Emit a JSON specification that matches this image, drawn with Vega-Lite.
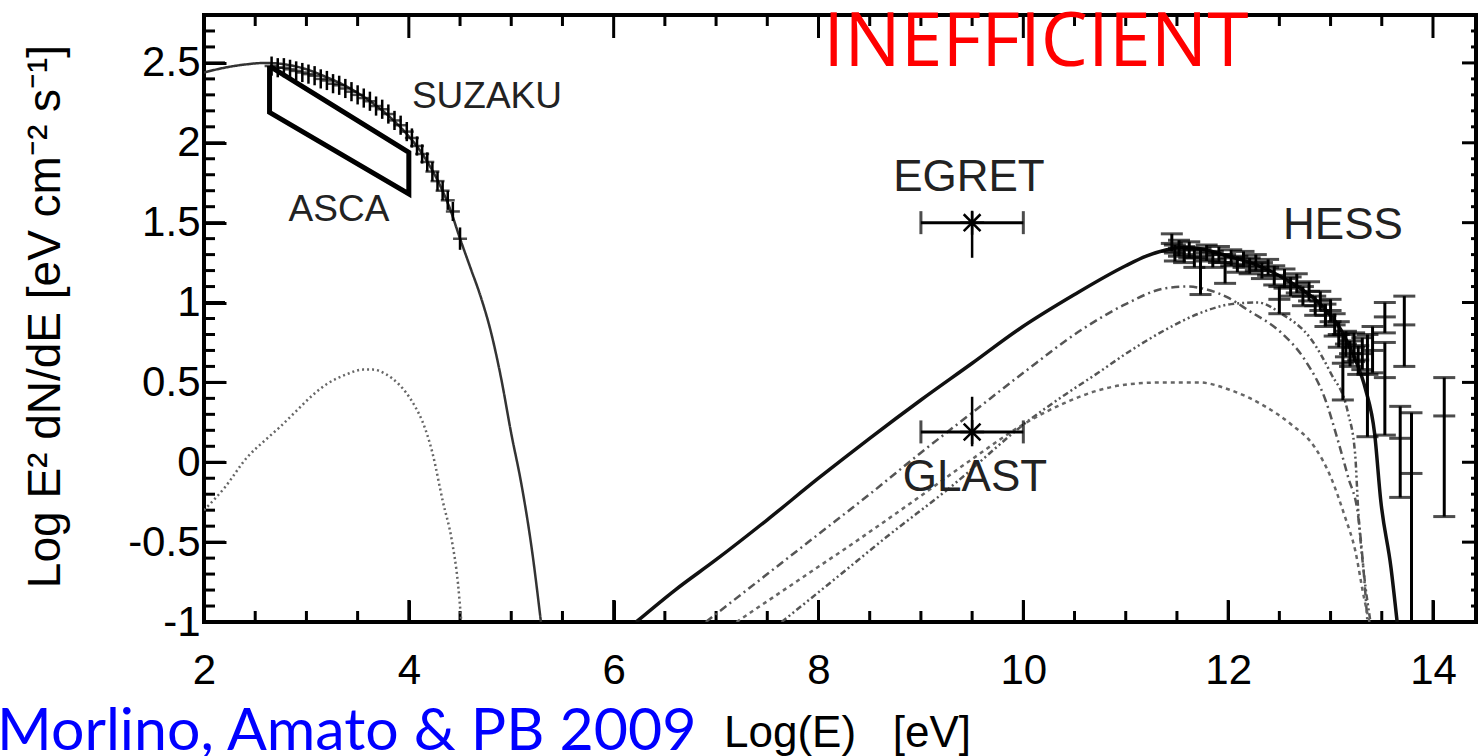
{
  "$schema": "https://vega.github.io/schema/vega-lite/v6.json",
  "width": 1272,
  "height": 607,
  "autosize": "none",
  "padding": {"left": 204, "top": 15, "right": 2, "bottom": 134},
  "background": "white",
  "config": {
    "view": {"stroke": "black", "strokeWidth": 4},
    "axis": {"grid": false, "domain": false, "ticks": true, "tickColor": "black", "tickWidth": 3, "tickOpacity": 1, "zindex": 1}
  },
  "datasets": {
    "xb_major": [{"v": 2, "at": -1}, {"v": 4, "at": -1}, {"v": 6, "at": -1}, {"v": 8, "at": -1}, {"v": 10, "at": -1}, {"v": 12, "at": -1}, {"v": 14, "at": -1}],
    "xb_minor": [{"v": 2.5, "at": -1}, {"v": 3, "at": -1}, {"v": 3.5, "at": -1}, {"v": 4.5, "at": -1}, {"v": 5, "at": -1}, {"v": 5.5, "at": -1},
      {"v": 6.5, "at": -1}, {"v": 7, "at": -1}, {"v": 7.5, "at": -1}, {"v": 8.5, "at": -1}, {"v": 9, "at": -1}, {"v": 9.5, "at": -1},
      {"v": 10.5, "at": -1}, {"v": 11, "at": -1}, {"v": 11.5, "at": -1}, {"v": 12.5, "at": -1}, {"v": 13, "at": -1}, {"v": 13.5, "at": -1}],
    "xt_major": [{"v": 2, "at": 2.8}, {"v": 4, "at": 2.8}, {"v": 6, "at": 2.8}, {"v": 8, "at": 2.8}, {"v": 10, "at": 2.8}, {"v": 12, "at": 2.8}, {"v": 14, "at": 2.8}],
    "xt_minor": [{"v": 2.5, "at": 2.8}, {"v": 3, "at": 2.8}, {"v": 3.5, "at": 2.8}, {"v": 4.5, "at": 2.8}, {"v": 5, "at": 2.8}, {"v": 5.5, "at": 2.8},
      {"v": 6.5, "at": 2.8}, {"v": 7, "at": 2.8}, {"v": 7.5, "at": 2.8}, {"v": 8.5, "at": 2.8}, {"v": 9, "at": 2.8}, {"v": 9.5, "at": 2.8},
      {"v": 10.5, "at": 2.8}, {"v": 11, "at": 2.8}, {"v": 11.5, "at": 2.8}, {"v": 12.5, "at": 2.8}, {"v": 13, "at": 2.8}, {"v": 13.5, "at": 2.8}],
    "yl_major": [{"v": -1, "at": 2}, {"v": -0.5, "at": 2}, {"v": 0, "at": 2}, {"v": 0.5, "at": 2}, {"v": 1, "at": 2}, {"v": 1.5, "at": 2}, {"v": 2, "at": 2}, {"v": 2.5, "at": 2}],
    "yl_minor": [{"v": -0.9, "at": 2}, {"v": -0.8, "at": 2}, {"v": -0.7, "at": 2}, {"v": -0.6, "at": 2}, {"v": -0.4, "at": 2}, {"v": -0.3, "at": 2},
      {"v": -0.2, "at": 2}, {"v": -0.1, "at": 2}, {"v": 0.1, "at": 2}, {"v": 0.2, "at": 2}, {"v": 0.3, "at": 2}, {"v": 0.4, "at": 2},
      {"v": 0.6, "at": 2}, {"v": 0.7, "at": 2}, {"v": 0.8, "at": 2}, {"v": 0.9, "at": 2}, {"v": 1.1, "at": 2}, {"v": 1.2, "at": 2},
      {"v": 1.3, "at": 2}, {"v": 1.4, "at": 2}, {"v": 1.6, "at": 2}, {"v": 1.7, "at": 2}, {"v": 1.8, "at": 2}, {"v": 1.9, "at": 2},
      {"v": 2.1, "at": 2}, {"v": 2.2, "at": 2}, {"v": 2.3, "at": 2}, {"v": 2.4, "at": 2}, {"v": 2.6, "at": 2}, {"v": 2.7, "at": 2}],
    "yr_major": [{"v": -1, "at": 14.42}, {"v": -0.5, "at": 14.42}, {"v": 0, "at": 14.42}, {"v": 0.5, "at": 14.42}, {"v": 1, "at": 14.42}, {"v": 1.5, "at": 14.42}, {"v": 2, "at": 14.42}, {"v": 2.5, "at": 14.42}],
    "yr_minor": [{"v": -0.9, "at": 14.42}, {"v": -0.8, "at": 14.42}, {"v": -0.7, "at": 14.42}, {"v": -0.6, "at": 14.42}, {"v": -0.4, "at": 14.42}, {"v": -0.3, "at": 14.42},
      {"v": -0.2, "at": 14.42}, {"v": -0.1, "at": 14.42}, {"v": 0.1, "at": 14.42}, {"v": 0.2, "at": 14.42}, {"v": 0.3, "at": 14.42}, {"v": 0.4, "at": 14.42},
      {"v": 0.6, "at": 14.42}, {"v": 0.7, "at": 14.42}, {"v": 0.8, "at": 14.42}, {"v": 0.9, "at": 14.42}, {"v": 1.1, "at": 14.42}, {"v": 1.2, "at": 14.42},
      {"v": 1.3, "at": 14.42}, {"v": 1.4, "at": 14.42}, {"v": 1.6, "at": 14.42}, {"v": 1.7, "at": 14.42}, {"v": 1.8, "at": 14.42}, {"v": 1.9, "at": 14.42},
      {"v": 2.1, "at": 14.42}, {"v": 2.2, "at": 14.42}, {"v": 2.3, "at": 14.42}, {"v": 2.4, "at": 14.42}, {"v": 2.6, "at": 14.42}, {"v": 2.7, "at": 14.42}],
    "total": [
      {"x": 6.22, "y": -1.0}, {"x": 6.6, "y": -0.8}, {"x": 7.0, "y": -0.61}, {"x": 7.5, "y": -0.36},
      {"x": 8.0, "y": -0.1}, {"x": 8.5, "y": 0.15}, {"x": 9.0, "y": 0.39}, {"x": 9.5, "y": 0.62},
      {"x": 9.95, "y": 0.83}, {"x": 10.5, "y": 1.05}, {"x": 11.0, "y": 1.23}, {"x": 11.2, "y": 1.29},
      {"x": 11.4, "y": 1.33}, {"x": 11.55, "y": 1.345}, {"x": 11.7, "y": 1.34}, {"x": 12.0, "y": 1.29},
      {"x": 12.3, "y": 1.23}, {"x": 12.6, "y": 1.13}, {"x": 12.9, "y": 0.99}, {"x": 13.1, "y": 0.83},
      {"x": 13.25, "y": 0.63}, {"x": 13.34, "y": 0.46}, {"x": 13.43, "y": 0.18}, {"x": 13.49, "y": -0.24},
      {"x": 13.59, "y": -0.66}, {"x": 13.65, "y": -1.0}
    ],
    "curves": [
      {"curve": "sync", "x": 2.0, "y": 2.44}, {"curve": "sync", "x": 2.2, "y": 2.47}, {"curve": "sync", "x": 2.4, "y": 2.49},
      {"curve": "sync", "x": 2.6, "y": 2.5}, {"curve": "sync", "x": 2.8, "y": 2.49}, {"curve": "sync", "x": 3.0, "y": 2.46},
      {"curve": "sync", "x": 3.2, "y": 2.41}, {"curve": "sync", "x": 3.4, "y": 2.35}, {"curve": "sync", "x": 3.6, "y": 2.27},
      {"curve": "sync", "x": 3.8, "y": 2.17}, {"curve": "sync", "x": 4.0, "y": 2.04}, {"curve": "sync", "x": 4.1, "y": 1.96},
      {"curve": "sync", "x": 4.2, "y": 1.86}, {"curve": "sync", "x": 4.3, "y": 1.74}, {"curve": "sync", "x": 4.4, "y": 1.59},
      {"curve": "sync", "x": 4.5, "y": 1.4}, {"curve": "sync", "x": 4.6, "y": 1.22}, {"curve": "sync", "x": 4.7, "y": 1.04},
      {"curve": "sync", "x": 4.8, "y": 0.82}, {"curve": "sync", "x": 4.9, "y": 0.53}, {"curve": "sync", "x": 5.0, "y": 0.18},
      {"curve": "sync", "x": 5.1, "y": -0.14}, {"curve": "sync", "x": 5.2, "y": -0.54}, {"curve": "sync", "x": 5.29, "y": -1.0},
      {"curve": "low", "x": 2.0, "y": -0.3}, {"curve": "low", "x": 2.2, "y": -0.16}, {"curve": "low", "x": 2.42, "y": 0.03},
      {"curve": "low", "x": 2.6, "y": 0.14}, {"curve": "low", "x": 2.74, "y": 0.22}, {"curve": "low", "x": 2.9, "y": 0.32},
      {"curve": "low", "x": 3.06, "y": 0.42}, {"curve": "low", "x": 3.2, "y": 0.49}, {"curve": "low", "x": 3.39, "y": 0.55},
      {"curve": "low", "x": 3.55, "y": 0.58}, {"curve": "low", "x": 3.65, "y": 0.58}, {"curve": "low", "x": 3.78, "y": 0.55},
      {"curve": "low", "x": 3.9, "y": 0.49}, {"curve": "low", "x": 3.98, "y": 0.43}, {"curve": "low", "x": 4.06, "y": 0.35},
      {"curve": "low", "x": 4.13, "y": 0.26}, {"curve": "low", "x": 4.23, "y": 0.06}, {"curve": "low", "x": 4.33, "y": -0.24},
      {"curve": "low", "x": 4.42, "y": -0.49}, {"curve": "low", "x": 4.48, "y": -0.76}, {"curve": "low", "x": 4.51, "y": -0.98},
      {"curve": "A", "x": 6.9, "y": -1.0}, {"curve": "A", "x": 7.5, "y": -0.7}, {"curve": "A", "x": 8.0, "y": -0.45},
      {"curve": "A", "x": 8.5, "y": -0.2}, {"curve": "A", "x": 9.0, "y": 0.06}, {"curve": "A", "x": 9.5, "y": 0.31},
      {"curve": "A", "x": 10.0, "y": 0.56}, {"curve": "A", "x": 10.57, "y": 0.83}, {"curve": "A", "x": 11.0, "y": 0.99},
      {"curve": "A", "x": 11.39, "y": 1.09}, {"curve": "A", "x": 11.6, "y": 1.1}, {"curve": "A", "x": 11.8, "y": 1.08},
      {"curve": "A", "x": 12.0, "y": 1.03}, {"curve": "A", "x": 12.2, "y": 0.95}, {"curve": "A", "x": 12.52, "y": 0.81},
      {"curve": "A", "x": 12.75, "y": 0.64}, {"curve": "A", "x": 12.95, "y": 0.39}, {"curve": "A", "x": 13.07, "y": 0.14},
      {"curve": "A", "x": 13.17, "y": -0.09}, {"curve": "A", "x": 13.27, "y": -0.34}, {"curve": "A", "x": 13.32, "y": -0.66},
      {"curve": "A", "x": 13.36, "y": -1.0},
      {"curve": "B", "x": 7.64, "y": -1.0}, {"curve": "B", "x": 8.2, "y": -0.71}, {"curve": "B", "x": 8.66, "y": -0.47},
      {"curve": "B", "x": 9.3, "y": -0.15}, {"curve": "B", "x": 10.05, "y": 0.26}, {"curve": "B", "x": 10.4, "y": 0.42},
      {"curve": "B", "x": 10.73, "y": 0.56}, {"curve": "B", "x": 11.05, "y": 0.7}, {"curve": "B", "x": 11.39, "y": 0.83},
      {"curve": "B", "x": 11.71, "y": 0.93}, {"curve": "B", "x": 12.03, "y": 0.99}, {"curve": "B", "x": 12.29, "y": 1.0},
      {"curve": "B", "x": 12.52, "y": 0.93}, {"curve": "B", "x": 12.81, "y": 0.77}, {"curve": "B", "x": 13.0, "y": 0.56},
      {"curve": "B", "x": 13.17, "y": 0.31}, {"curve": "B", "x": 13.24, "y": 0.05}, {"curve": "B", "x": 13.27, "y": -0.3},
      {"curve": "B", "x": 13.33, "y": -0.72}, {"curve": "B", "x": 13.39, "y": -1.0},
      {"curve": "C", "x": 7.2, "y": -1.0}, {"curve": "C", "x": 7.8, "y": -0.74}, {"curve": "C", "x": 8.4, "y": -0.48},
      {"curve": "C", "x": 9.0, "y": -0.21}, {"curve": "C", "x": 9.5, "y": 0.02}, {"curve": "C", "x": 10.02, "y": 0.245},
      {"curve": "C", "x": 10.4, "y": 0.37}, {"curve": "C", "x": 10.73, "y": 0.45}, {"curve": "C", "x": 11.05, "y": 0.49},
      {"curve": "C", "x": 11.39, "y": 0.5}, {"curve": "C", "x": 11.71, "y": 0.5}, {"curve": "C", "x": 12.03, "y": 0.45},
      {"curve": "C", "x": 12.36, "y": 0.35}, {"curve": "C", "x": 12.61, "y": 0.24}, {"curve": "C", "x": 12.85, "y": 0.09},
      {"curve": "C", "x": 13.0, "y": -0.09}, {"curve": "C", "x": 13.14, "y": -0.34}, {"curve": "C", "x": 13.24, "y": -0.55},
      {"curve": "C", "x": 13.33, "y": -0.86}, {"curve": "C", "x": 13.38, "y": -1.0}
    ],
    "asca": [
      {"i": 1, "x": 2.64, "y": 2.48}, {"i": 2, "x": 4.0, "y": 1.94}, {"i": 3, "x": 4.0, "y": 1.68},
      {"i": 4, "x": 2.64, "y": 2.19}, {"i": 5, "x": 2.64, "y": 2.48}
    ],
    "suzaku": [
      {"x": 2.66, "y": 2.48, "lo": 2.42, "hi": 2.54}, {"x": 2.72, "y": 2.47, "lo": 2.41, "hi": 2.53},
      {"x": 2.78, "y": 2.47, "lo": 2.41, "hi": 2.53}, {"x": 2.84, "y": 2.46, "lo": 2.4, "hi": 2.52},
      {"x": 2.9, "y": 2.45, "lo": 2.39, "hi": 2.51}, {"x": 2.96, "y": 2.44, "lo": 2.38, "hi": 2.5},
      {"x": 3.02, "y": 2.43, "lo": 2.37, "hi": 2.49}, {"x": 3.08, "y": 2.42, "lo": 2.36, "hi": 2.48},
      {"x": 3.14, "y": 2.4, "lo": 2.34, "hi": 2.46}, {"x": 3.2, "y": 2.39, "lo": 2.33, "hi": 2.45},
      {"x": 3.26, "y": 2.37, "lo": 2.31, "hi": 2.43}, {"x": 3.32, "y": 2.36, "lo": 2.3, "hi": 2.42},
      {"x": 3.38, "y": 2.34, "lo": 2.28, "hi": 2.4}, {"x": 3.44, "y": 2.32, "lo": 2.26, "hi": 2.38},
      {"x": 3.5, "y": 2.3, "lo": 2.24, "hi": 2.36}, {"x": 3.56, "y": 2.28, "lo": 2.22, "hi": 2.34},
      {"x": 3.62, "y": 2.26, "lo": 2.2, "hi": 2.32}, {"x": 3.68, "y": 2.23, "lo": 2.17, "hi": 2.29},
      {"x": 3.74, "y": 2.21, "lo": 2.15, "hi": 2.27}, {"x": 3.8, "y": 2.18, "lo": 2.12, "hi": 2.24},
      {"x": 3.86, "y": 2.14, "lo": 2.08, "hi": 2.2}, {"x": 3.92, "y": 2.11, "lo": 2.05, "hi": 2.17},
      {"x": 3.98, "y": 2.07, "lo": 2.01, "hi": 2.13}, {"x": 4.03, "y": 2.03, "lo": 1.97, "hi": 2.09},
      {"x": 4.08, "y": 1.98, "lo": 1.92, "hi": 2.04}, {"x": 4.13, "y": 1.93, "lo": 1.87, "hi": 1.99},
      {"x": 4.18, "y": 1.88, "lo": 1.82, "hi": 1.94}, {"x": 4.23, "y": 1.82, "lo": 1.76, "hi": 1.88},
      {"x": 4.28, "y": 1.76, "lo": 1.7, "hi": 1.82}, {"x": 4.33, "y": 1.7, "lo": 1.64, "hi": 1.76},
      {"x": 4.38, "y": 1.64, "lo": 1.58, "hi": 1.7}, {"x": 4.43, "y": 1.57, "lo": 1.51, "hi": 1.63},
      {"x": 4.5, "y": 1.4, "lo": 1.33, "hi": 1.47}
    ],
    "hess": [
      {"x": 11.45, "y": 1.37, "lo": 1.32, "hi": 1.43}, {"x": 11.48, "y": 1.31, "lo": 1.26, "hi": 1.36},
      {"x": 11.52, "y": 1.34, "lo": 1.29, "hi": 1.39}, {"x": 11.57, "y": 1.3, "lo": 1.25, "hi": 1.35},
      {"x": 11.62, "y": 1.33, "lo": 1.28, "hi": 1.38}, {"x": 11.67, "y": 1.28, "lo": 1.22, "hi": 1.33},
      {"x": 11.73, "y": 1.29, "lo": 1.05, "hi": 1.34}, {"x": 11.79, "y": 1.31, "lo": 1.26, "hi": 1.36},
      {"x": 11.85, "y": 1.27, "lo": 1.22, "hi": 1.32}, {"x": 11.91, "y": 1.3, "lo": 1.25, "hi": 1.35},
      {"x": 11.97, "y": 1.25, "lo": 1.12, "hi": 1.3}, {"x": 12.03, "y": 1.28, "lo": 1.23, "hi": 1.33},
      {"x": 12.09, "y": 1.24, "lo": 1.19, "hi": 1.29}, {"x": 12.15, "y": 1.27, "lo": 1.22, "hi": 1.32},
      {"x": 12.21, "y": 1.23, "lo": 1.18, "hi": 1.28}, {"x": 12.27, "y": 1.25, "lo": 1.2, "hi": 1.3},
      {"x": 12.33, "y": 1.2, "lo": 1.15, "hi": 1.25}, {"x": 12.39, "y": 1.22, "lo": 1.17, "hi": 1.27},
      {"x": 12.45, "y": 1.17, "lo": 1.11, "hi": 1.23}, {"x": 12.5, "y": 1.02, "lo": 0.93, "hi": 1.1},
      {"x": 12.55, "y": 1.15, "lo": 1.09, "hi": 1.21}, {"x": 12.61, "y": 1.1, "lo": 1.04, "hi": 1.16},
      {"x": 12.67, "y": 1.12, "lo": 1.06, "hi": 1.18}, {"x": 12.73, "y": 1.04, "lo": 0.98, "hi": 1.1},
      {"x": 12.79, "y": 1.07, "lo": 1.01, "hi": 1.13}, {"x": 12.85, "y": 0.98, "lo": 0.92, "hi": 1.04},
      {"x": 12.9, "y": 1.01, "lo": 0.95, "hi": 1.07}, {"x": 12.95, "y": 0.92, "lo": 0.85, "hi": 0.99},
      {"x": 13.0, "y": 0.95, "lo": 0.88, "hi": 1.02}, {"x": 13.04, "y": 0.86, "lo": 0.79, "hi": 0.93},
      {"x": 13.08, "y": 0.8, "lo": 0.72, "hi": 0.88}, {"x": 13.12, "y": 0.62, "lo": 0.39, "hi": 0.8},
      {"x": 13.15, "y": 0.74, "lo": 0.66, "hi": 0.82}, {"x": 13.19, "y": 0.68, "lo": 0.6, "hi": 0.76},
      {"x": 13.23, "y": 0.72, "lo": 0.63, "hi": 0.81}, {"x": 13.27, "y": 0.64, "lo": 0.55, "hi": 0.73},
      {"x": 13.31, "y": 0.68, "lo": 0.58, "hi": 0.78}, {"x": 13.36, "y": 0.55, "lo": 0.16, "hi": 0.8},
      {"x": 13.41, "y": 0.7, "lo": 0.56, "hi": 0.85}, {"x": 13.53, "y": 0.91, "lo": 0.81, "hi": 1.0},
      {"x": 13.53, "y": 0.53, "lo": 0.17, "hi": 0.75}, {"x": 13.68, "y": 0.15, "lo": -0.22, "hi": 0.35},
      {"x": 13.72, "y": 0.86, "lo": 0.6, "hi": 1.04}, {"x": 13.79, "y": -0.07, "lo": -1.0, "hi": 0.31},
      {"x": 14.11, "y": 0.29, "lo": -0.34, "hi": 0.53}
    ],
    "gamma": [
      {"name": "EGRET", "x": 9.5, "y": 1.5, "lo": 1.28, "hi": 1.57, "xlo": 9.0, "xhi": 10.0},
      {"name": "GLAST", "x": 9.5, "y": 0.19, "lo": 0.1, "hi": 0.41, "xlo": 9.0, "xhi": 10.0}
    ],
    "labels": [
      {"kind": "small", "text": "SUZAKU", "x": 4.763, "y": 2.287},
      {"kind": "small", "text": "ASCA", "x": 3.318, "y": 1.579},
      {"kind": "big", "text": "EGRET", "x": 9.469, "y": 1.78},
      {"kind": "big", "text": "GLAST", "x": 9.528, "y": -0.098},
      {"kind": "big", "text": "HESS", "x": 13.121, "y": 1.479},
      {"kind": "red", "text": "INEFFICIENT", "x": 10.123, "y": 2.622},
      {"kind": "blue", "text": "Morlino, Amato & PB 2009", "x": -0.02, "y": -1.801}
    ]
  },
  "resolve": {"axis": {"x": "independent", "y": "independent"}},
  "layer": [
    {
      "data": {"name": "total"},
      "mark": {"type": "line", "color": "#111111", "strokeWidth": 3.5, "clip": true, "interpolate": "monotone"},
      "encoding": {
        "x": {
          "field": "x", "type": "quantitative",
          "scale": {"domain": [2, 14.42], "nice": false, "zero": false},
          "axis": {
            "orient": "bottom", "offset": -22,
            "values": [2, 4, 6, 8, 10, 12, 14],
            "ticks": true, "tickSize": 22, "tickColor": "#000000", "tickOpacity": 1, "tickWidth": 3,
            "labelFont": "Liberation Sans", "labelFontSize": 42, "labelColor": "black",
            "labelPadding": 28, "labelFlush": false, "labelOverlap": false, "labelBaseline": "top",
            "title": "Log(E)\u00a0\u00a0\u00a0[eV]", "titleFont": "Liberation Sans", "titleFontSize": 44,
            "titleFontWeight": "normal", "titleColor": "black", "titleX": 643, "titleY": 133,
            "titleBaseline": "middle", "titleAlign": "center"
          }
        },
        "y": {
          "field": "y", "type": "quantitative",
          "scale": {"domain": [-1, 2.8], "nice": false, "zero": false},
          "axis": {
            "orient": "left", "offset": -22,
            "values": [-1, -0.5, 0, 0.5, 1, 1.5, 2, 2.5],
            "ticks": true, "tickSize": 22, "tickColor": "#000000", "tickOpacity": 1, "tickWidth": 3,
            "labelExpr": "'' + (round(datum.value*10)/10)",
            "labelFont": "Liberation Sans", "labelFontSize": 42, "labelColor": "black",
            "labelPadding": 4, "labelFlush": false, "labelOverlap": false, "labelBaseline": "middle",
            "title": "Log E² dN/dE  [eV cm⁻² s⁻¹]", "titleFont": "Liberation Sans", "titleFontSize": 46,
            "titleFontWeight": "normal", "titleColor": "black", "titleX": -181, "titleY": 301,
            "titleBaseline": "middle", "titleAlign": "center", "titleAngle": -90
          }
        }
      }
    },
    {
      "data": {"name": "xb_major"},
      "mark": {"type": "point", "shape": "M0,0L0,-1", "filled": false, "color": "black", "strokeWidth": 3, "strokeCap": "butt", "size": 1936, "opacity": 1},
      "encoding": {
        "x": {"field": "v", "type": "quantitative", "scale": {"domain": [2, 14.42], "nice": false, "zero": false}, "axis": null},
        "y": {"field": "at", "type": "quantitative", "scale": {"domain": [-1, 2.8], "nice": false, "zero": false}, "axis": null}
      }
    },
    {
      "data": {"name": "xb_minor"},
      "mark": {"type": "point", "shape": "M0,0L0,-1", "filled": false, "color": "black", "strokeWidth": 3, "strokeCap": "butt", "size": 484, "opacity": 1},
      "encoding": {
        "x": {"field": "v", "type": "quantitative", "scale": {"domain": [2, 14.42], "nice": false, "zero": false}, "axis": null},
        "y": {"field": "at", "type": "quantitative", "scale": {"domain": [-1, 2.8], "nice": false, "zero": false}, "axis": null}
      }
    },
    {
      "data": {"name": "xt_major"},
      "mark": {"type": "point", "shape": "M0,0L0,1", "filled": false, "color": "black", "strokeWidth": 3, "strokeCap": "butt", "size": 2116, "opacity": 1},
      "encoding": {
        "x": {"field": "v", "type": "quantitative", "scale": {"domain": [2, 14.42], "nice": false, "zero": false}, "axis": null},
        "y": {"field": "at", "type": "quantitative", "scale": {"domain": [-1, 2.8], "nice": false, "zero": false}, "axis": null}
      }
    },
    {
      "data": {"name": "xt_minor"},
      "mark": {"type": "point", "shape": "M0,0L0,1", "filled": false, "color": "black", "strokeWidth": 3, "strokeCap": "butt", "size": 484, "opacity": 1},
      "encoding": {
        "x": {"field": "v", "type": "quantitative", "scale": {"domain": [2, 14.42], "nice": false, "zero": false}, "axis": null},
        "y": {"field": "at", "type": "quantitative", "scale": {"domain": [-1, 2.8], "nice": false, "zero": false}, "axis": null}
      }
    },
    {
      "data": {"name": "yl_major"},
      "mark": {"type": "point", "shape": "M0,0L1,0", "filled": false, "color": "black", "strokeWidth": 3, "strokeCap": "butt", "size": 1764, "opacity": 1},
      "encoding": {
        "x": {"field": "at", "type": "quantitative", "scale": {"domain": [2, 14.42], "nice": false, "zero": false}, "axis": null},
        "y": {"field": "v", "type": "quantitative", "scale": {"domain": [-1, 2.8], "nice": false, "zero": false}, "axis": null}
      }
    },
    {
      "data": {"name": "yl_minor"},
      "mark": {"type": "point", "shape": "M0,0L1,0", "filled": false, "color": "black", "strokeWidth": 3, "strokeCap": "butt", "size": 484, "opacity": 1},
      "encoding": {
        "x": {"field": "at", "type": "quantitative", "scale": {"domain": [2, 14.42], "nice": false, "zero": false}, "axis": null},
        "y": {"field": "v", "type": "quantitative", "scale": {"domain": [-1, 2.8], "nice": false, "zero": false}, "axis": null}
      }
    },
    {
      "data": {"name": "yr_major"},
      "mark": {"type": "point", "shape": "M0,0L-1,0", "filled": false, "color": "black", "strokeWidth": 3, "strokeCap": "butt", "size": 784, "opacity": 1},
      "encoding": {
        "x": {"field": "at", "type": "quantitative", "scale": {"domain": [2, 14.42], "nice": false, "zero": false}, "axis": null},
        "y": {"field": "v", "type": "quantitative", "scale": {"domain": [-1, 2.8], "nice": false, "zero": false}, "axis": null}
      }
    },
    {
      "data": {"name": "yr_minor"},
      "mark": {"type": "point", "shape": "M0,0L-1,0", "filled": false, "color": "black", "strokeWidth": 3, "strokeCap": "butt", "size": 100, "opacity": 1},
      "encoding": {
        "x": {"field": "at", "type": "quantitative", "scale": {"domain": [2, 14.42], "nice": false, "zero": false}, "axis": null},
        "y": {"field": "v", "type": "quantitative", "scale": {"domain": [-1, 2.8], "nice": false, "zero": false}, "axis": null}
      }
    },
    {
      "data": {"name": "asca"},
      "mark": {"type": "line", "color": "black", "strokeWidth": 5, "strokeJoin": "miter"},
      "encoding": {
        "x": {"field": "x", "type": "quantitative", "scale": {"domain": [2, 14.42], "nice": false, "zero": false}, "axis": null},
        "y": {"field": "y", "type": "quantitative", "scale": {"domain": [-1, 2.8], "nice": false, "zero": false}, "axis": null},
        "order": {"field": "i", "type": "quantitative"}
      }
    },
    {
      "data": {"name": "curves"},
      "mark": {"type": "line", "strokeWidth": 2.5, "clip": true, "interpolate": "monotone"},
      "encoding": {
        "x": {"field": "x", "type": "quantitative", "scale": {"domain": [2, 14.42], "nice": false, "zero": false}, "axis": null},
        "y": {"field": "y", "type": "quantitative", "scale": {"domain": [-1, 2.8], "nice": false, "zero": false}, "axis": null},
        "color": {"field": "curve", "type": "nominal", "legend": null,
          "scale": {"domain": ["sync", "low", "A", "B", "C"], "range": ["#333333", "#666666", "#555555", "#555555", "#666666"]}},
        "strokeDash": {"field": "curve", "type": "nominal", "legend": null,
          "scale": {"domain": ["sync", "low", "A", "B", "C"], "range": [[1, 0], [2, 3], [8, 4, 2, 4], [6, 3, 2, 3, 2, 3], [4, 4]]}}
      }
    },
    {
      "data": {"name": "suzaku"},
      "mark": {"type": "rule", "color": "black", "strokeWidth": 2.5},
      "encoding": {
        "x": {"field": "x", "type": "quantitative", "scale": {"domain": [2, 14.42], "nice": false, "zero": false}, "axis": null},
        "y": {"field": "lo", "type": "quantitative", "scale": {"domain": [-1, 2.8], "nice": false, "zero": false}, "axis": null},
        "y2": {"field": "hi"}
      }
    },
    {
      "data": {"name": "suzaku"},
      "mark": {"type": "tick", "orient": "horizontal", "color": "black", "size": 14, "thickness": 2.5},
      "encoding": {
        "x": {"field": "x", "type": "quantitative", "scale": {"domain": [2, 14.42], "nice": false, "zero": false}, "axis": null},
        "y": {"field": "y", "type": "quantitative", "scale": {"domain": [-1, 2.8], "nice": false, "zero": false}, "axis": null}
      }
    },
    {
      "data": {"name": "hess"},
      "mark": {"type": "rule", "color": "black", "strokeWidth": 3, "clip": true},
      "encoding": {
        "x": {"field": "x", "type": "quantitative", "scale": {"domain": [2, 14.42], "nice": false, "zero": false}, "axis": null},
        "y": {"field": "lo", "type": "quantitative", "scale": {"domain": [-1, 2.8], "nice": false, "zero": false}, "axis": null},
        "y2": {"field": "hi"}
      }
    },
    {
      "data": {"name": "hess"},
      "mark": {"type": "tick", "orient": "horizontal", "color": "black", "size": 22, "thickness": 3},
      "encoding": {
        "x": {"field": "x", "type": "quantitative", "scale": {"domain": [2, 14.42], "nice": false, "zero": false}, "axis": null},
        "y": {"field": "y", "type": "quantitative", "scale": {"domain": [-1, 2.8], "nice": false, "zero": false}, "axis": null}
      }
    },
    {
      "data": {"name": "hess"},
      "mark": {"type": "tick", "orient": "horizontal", "color": "black", "size": 22, "thickness": 3},
      "encoding": {
        "x": {"field": "x", "type": "quantitative", "scale": {"domain": [2, 14.42], "nice": false, "zero": false}, "axis": null},
        "y": {"field": "lo", "type": "quantitative", "scale": {"domain": [-1, 2.8], "nice": false, "zero": false}, "axis": null}
      }
    },
    {
      "data": {"name": "hess"},
      "mark": {"type": "tick", "orient": "horizontal", "color": "black", "size": 22, "thickness": 3},
      "encoding": {
        "x": {"field": "x", "type": "quantitative", "scale": {"domain": [2, 14.42], "nice": false, "zero": false}, "axis": null},
        "y": {"field": "hi", "type": "quantitative", "scale": {"domain": [-1, 2.8], "nice": false, "zero": false}, "axis": null}
      }
    },
    {
      "data": {"name": "gamma"},
      "mark": {"type": "rule", "color": "black", "strokeWidth": 3},
      "encoding": {
        "x": {"field": "xlo", "type": "quantitative", "scale": {"domain": [2, 14.42], "nice": false, "zero": false}, "axis": null},
        "x2": {"field": "xhi"},
        "y": {"field": "y", "type": "quantitative", "scale": {"domain": [-1, 2.8], "nice": false, "zero": false}, "axis": null}
      }
    },
    {
      "data": {"name": "gamma"},
      "mark": {"type": "rule", "color": "black", "strokeWidth": 2.5},
      "encoding": {
        "x": {"field": "x", "type": "quantitative", "scale": {"domain": [2, 14.42], "nice": false, "zero": false}, "axis": null},
        "y": {"field": "lo", "type": "quantitative", "scale": {"domain": [-1, 2.8], "nice": false, "zero": false}, "axis": null},
        "y2": {"field": "hi"}
      }
    },
    {
      "data": {"name": "gamma"},
      "mark": {"type": "tick", "orient": "vertical", "color": "black", "size": 23, "thickness": 3},
      "encoding": {
        "x": {"field": "xlo", "type": "quantitative", "scale": {"domain": [2, 14.42], "nice": false, "zero": false}, "axis": null},
        "y": {"field": "y", "type": "quantitative", "scale": {"domain": [-1, 2.8], "nice": false, "zero": false}, "axis": null}
      }
    },
    {
      "data": {"name": "gamma"},
      "mark": {"type": "tick", "orient": "vertical", "color": "black", "size": 23, "thickness": 3},
      "encoding": {
        "x": {"field": "xhi", "type": "quantitative", "scale": {"domain": [2, 14.42], "nice": false, "zero": false}, "axis": null},
        "y": {"field": "y", "type": "quantitative", "scale": {"domain": [-1, 2.8], "nice": false, "zero": false}, "axis": null}
      }
    },
    {
      "data": {"name": "gamma"},
      "mark": {"type": "point", "shape": "M-1,0L1,0M0,-1L0,1M-0.7,-0.7L0.7,0.7M-0.7,0.7L0.7,-0.7", "filled": false, "color": "black", "strokeWidth": 2.5, "size": 576, "opacity": 1},
      "encoding": {
        "x": {"field": "x", "type": "quantitative", "scale": {"domain": [2, 14.42], "nice": false, "zero": false}, "axis": null},
        "y": {"field": "y", "type": "quantitative", "scale": {"domain": [-1, 2.8], "nice": false, "zero": false}, "axis": null}
      }
    },
    {
      "data": {"name": "labels"},
      "transform": [{"filter": "datum.kind === 'small'"}],
      "mark": {"type": "text", "font": "Liberation Sans", "fontSize": 37, "color": "#222222", "align": "center", "baseline": "middle"},
      "encoding": {
        "x": {"field": "x", "type": "quantitative", "scale": {"domain": [2, 14.42], "nice": false, "zero": false}, "axis": null},
        "y": {"field": "y", "type": "quantitative", "scale": {"domain": [-1, 2.8], "nice": false, "zero": false}, "axis": null},
        "text": {"field": "text"}
      }
    },
    {
      "data": {"name": "labels"},
      "transform": [{"filter": "datum.kind === 'big'"}],
      "mark": {"type": "text", "font": "Liberation Sans", "fontSize": 44, "color": "#222222", "align": "center", "baseline": "middle"},
      "encoding": {
        "x": {"field": "x", "type": "quantitative", "scale": {"domain": [2, 14.42], "nice": false, "zero": false}, "axis": null},
        "y": {"field": "y", "type": "quantitative", "scale": {"domain": [-1, 2.8], "nice": false, "zero": false}, "axis": null},
        "text": {"field": "text"}
      }
    },
    {
      "data": {"name": "labels"},
      "transform": [{"filter": "datum.kind === 'red'"}],
      "mark": {"type": "text", "font": "Open Sans", "fontSize": 75, "color": "#FF0000", "align": "center", "baseline": "middle"},
      "encoding": {
        "x": {"field": "x", "type": "quantitative", "scale": {"domain": [2, 14.42], "nice": false, "zero": false}, "axis": null},
        "y": {"field": "y", "type": "quantitative", "scale": {"domain": [-1, 2.8], "nice": false, "zero": false}, "axis": null},
        "text": {"field": "text"}
      }
    },
    {
      "data": {"name": "labels"},
      "transform": [{"filter": "datum.kind === 'blue'"}],
      "mark": {"type": "text", "font": "Lato", "fontSize": 59, "color": "#0000FF", "align": "left", "baseline": "alphabetic"},
      "encoding": {
        "x": {"field": "x", "type": "quantitative", "scale": {"domain": [2, 14.42], "nice": false, "zero": false}, "axis": null},
        "y": {"field": "y", "type": "quantitative", "scale": {"domain": [-1, 2.8], "nice": false, "zero": false}, "axis": null},
        "text": {"field": "text"}
      }
    }
  ]
}
